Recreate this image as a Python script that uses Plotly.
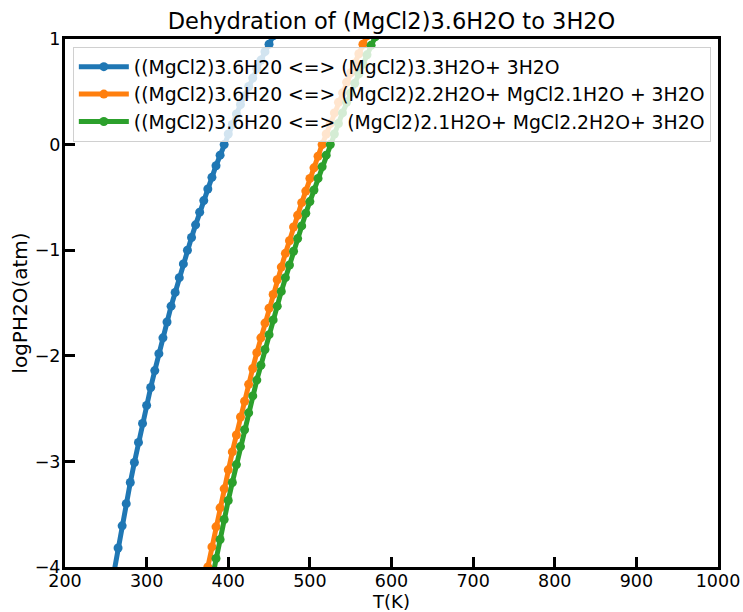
import plotly.graph_objects as go

# temperatures (K) and log P(H2O) (atm)
t_blue = [260, 265, 270, 275, 280, 285, 290, 295, 300, 305, 310, 315, 320, 325, 330,
          335, 340, 345, 350, 355, 360, 365, 370, 375, 380, 385, 390, 395, 400, 405,
          410, 415, 420, 425, 430, 435, 440, 445, 450, 455]
logp_blue = [-4.05, -3.82, -3.61, -3.40, -3.20, -3.01, -2.82, -2.64, -2.47, -2.30,
             -2.14, -1.98, -1.83, -1.68, -1.53, -1.40, -1.26, -1.13, -1.00, -0.88,
             -0.76, -0.64, -0.53, -0.42, -0.31, -0.20, -0.10, 0.00, 0.10, 0.19,
             0.29, 0.38, 0.46, 0.55, 0.63, 0.72, 0.80, 0.88, 0.95, 1.03]

t_orange = [375, 380, 385, 390, 395, 400, 405, 410, 415, 420, 425, 430, 435, 440, 445,
            450, 455, 460, 465, 470, 475, 480, 485, 490, 495, 500, 505, 510, 515, 520,
            525, 530, 535, 540, 545, 550, 555, 560, 565, 570]
logp_orange = [-4.00, -3.81, -3.62, -3.44, -3.26, -3.08, -2.91, -2.75, -2.58, -2.43,
               -2.27, -2.12, -1.97, -1.83, -1.69, -1.55, -1.42, -1.28, -1.16, -1.03,
               -0.91, -0.78, -0.67, -0.55, -0.44, -0.32, -0.22, -0.11, 0.00, 0.10,
               0.20, 0.30, 0.40, 0.49, 0.59, 0.68, 0.77, 0.86, 0.95, 1.03]

t_green = [380, 385, 390, 395, 400, 405, 410, 415, 420, 425, 430, 435, 440, 445, 450,
           455, 460, 465, 470, 475, 480, 485, 490, 495, 500, 505, 510, 515, 520, 525,
           530, 535, 540, 545, 550, 555, 560, 565, 570, 575, 580]
logp_green = [-4.12, -3.92, -3.74, -3.55, -3.37, -3.20, -3.03, -2.86, -2.70, -2.54,
              -2.38, -2.23, -2.09, -1.94, -1.80, -1.66, -1.53, -1.39, -1.26, -1.14,
              -1.01, -0.89, -0.77, -0.65, -0.54, -0.43, -0.32, -0.21, -0.10, 0.00,
              0.10, 0.20, 0.30, 0.40, 0.49, 0.58, 0.67, 0.76, 0.85, 0.94, 1.02]

names = ["((MgCl2)3.6H20 <=> (MgCl2)3.3H2O+ 3H2O",
         "((MgCl2)3.6H20 <=> (MgCl2)2.2H2O+ MgCl2.1H2O + 3H2O",
         "((MgCl2)3.6H20 <=>\u00a0 (MgCl2)2.1H2O+ MgCl2.2H2O+ 3H2O"]
colors = ["#1f77b4", "#ff7f0e", "#2ca02c"]

fig = go.Figure()
for t, lp, name, c in zip([t_blue, t_orange, t_green],
                          [logp_blue, logp_orange, logp_green], names, colors):
    fig.add_trace(go.Scatter(x=t, y=lp, name=name, mode="lines+markers",
                             line=dict(color=c, width=5),
                             marker=dict(color=c, size=9)))

axis_style = dict(showgrid=False, zeroline=False, showline=True, linecolor="black",
                  linewidth=3, mirror=True, ticks="inside", ticklen=10, tickwidth=3,
                  tickcolor="black", tickfont=dict(size=17.5, color="black"),
                  automargin=False)

fig.update_layout(
    width=743, height=612,
    margin=dict(l=65, r=25, t=39, b=45),
    plot_bgcolor="white", paper_bgcolor="white",
    font=dict(family="DejaVu Sans", color="black"),
    title=dict(text="Dehydration of (MgCl2)3.6H2O to 3H2O", x=0.527, xanchor="center",
               yref="container", y=0.965, yanchor="middle", font=dict(size=22.5)),
    legend=dict(x=0.012, y=0.985, xanchor="left", yanchor="top",
                bgcolor="rgba(255,255,255,0.8)", bordercolor="#d0d0d0", borderwidth=1,
                font=dict(size=18.8), tracegroupgap=0, itemwidth=50),
)
fig.update_xaxes(range=[200, 1000], dtick=100, ticklabelstandoff=-4,
                 title=dict(text="T(K)", font=dict(size=18), standoff=2), **axis_style)
fig.update_yaxes(range=[-4, 1], dtick=1, ticklabelstandoff=-2,
                 title=dict(text="logPH2O(atm)", font=dict(size=20), standoff=2), **axis_style)

# the page body has an 8px margin by default; drop it so the figure fills the window
fig.write_html("out.html", config={"displayModeBar": False},
               post_script="document.body.style.margin='0px';")
